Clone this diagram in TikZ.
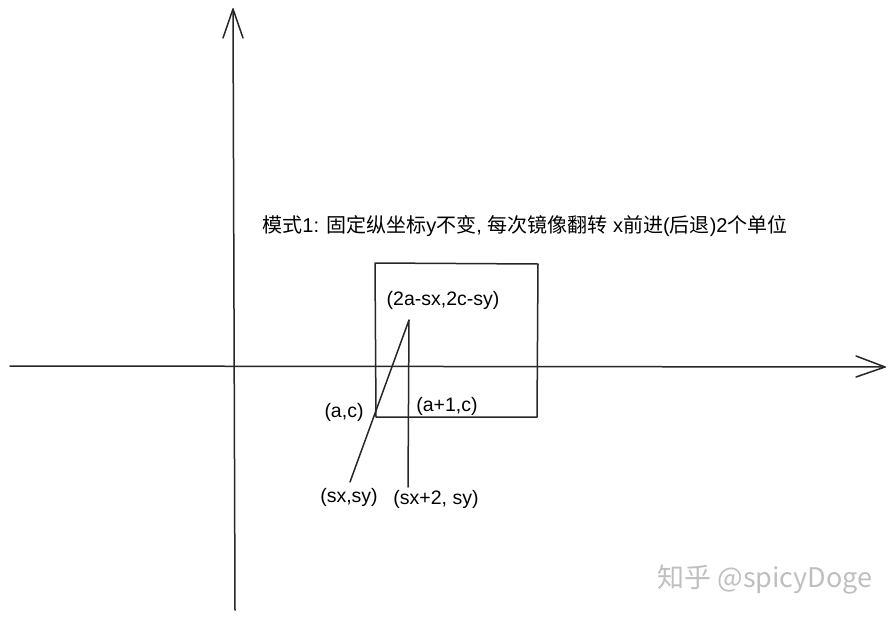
\documentclass[tikz,border=0pt]{standalone}
\usepackage{fontspec}
\setmainfont{Liberation Sans}
\newfontfamily\cjk{Noto Sans CJK SC}
\begin{document}
\begin{tikzpicture}[x=1pt,y=-1pt,
  ink/.style={line width=1.5pt, line cap=round, line join=round, black!85},
  lbl/.style={inner sep=0pt, font=\fontsize{19.5}{22}\selectfont},
  ttl/.style={inner sep=0pt, font=\fontsize{20}{22}\selectfont},
  wmark/.style={inner sep=0pt, font=\cjk\fontsize{27}{30}\selectfont, text=black!25}]
\useasboundingbox (0,0) rectangle (894,621);
% axes
\coordinate (xs) at (10,366);
\coordinate (xe) at (885,367);
\coordinate (xb1) at (856,356);
\coordinate (xb2) at (856,377);
\coordinate (ys) at (235,610);
\coordinate (ye) at (233,9);
\coordinate (yb1) at (223,38);
\coordinate (yb2) at (243,38);
\draw[ink] (xs) -- (xe);
\draw[ink] (xb1) -- (xe) -- (xb2);
\draw[ink] (ys) -- (ye);
\draw[ink] (yb1) -- (ye) -- (yb2);
% box
\coordinate (b1) at (375,263);
\coordinate (b2) at (538,264);
\coordinate (b3) at (537,417);
\coordinate (b4) at (376,417);
\draw[ink] (b1) -- (b2) -- (b3) -- (b4) -- cycle;
% lines
\coordinate (s) at (350,482);
\coordinate (apex) at (409,320);
\coordinate (s2) at (408,487);
\draw[ink] (s) -- (apex) -- (s2);
% labels
\node[ttl] (title) at (525,226) {{\cjk 模式}1: {\cjk 固定纵坐标}y{\cjk 不变}, {\cjk 每次镜像翻转} x{\cjk 前进}({\cjk 后退})2{\cjk 个单位}};
\node[lbl] (lapex) at (443,300) {(2a-sx,2c-sy)};
\node[lbl] (lac) at (344,412) {(a,c)};
\node[lbl] (la1c) at (447,406) {(a+1,c)};
\node[lbl] (ls) at (349,497) {(sx,sy)};
\node[lbl] (ls2) at (436,499) {(sx+2, sy)};
\node[wmark] (wm) at (765,580) {知乎 @spicyDoge};
\end{tikzpicture}
\end{document}
